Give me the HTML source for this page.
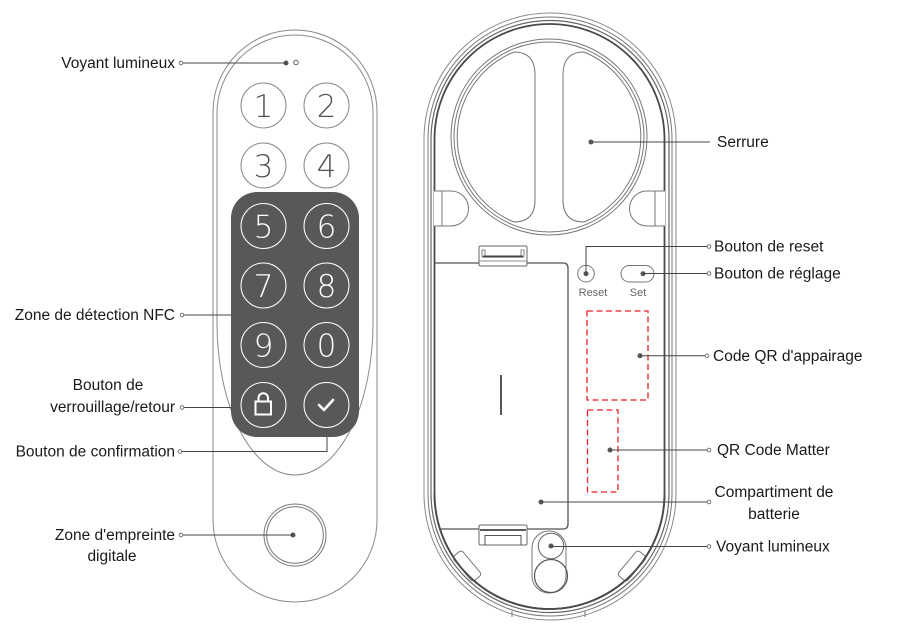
<!DOCTYPE html>
<html><head><meta charset="utf-8"><style>
html,body{margin:0;padding:0;background:#fff;}
svg{display:block;}
.lbl{font-family:"Liberation Sans",sans-serif;font-size:15.5px;fill:#1a1a1a;}
.dig{font-family:"DejaVu Sans","Liberation Sans",sans-serif;font-weight:200;font-size:31px;text-anchor:middle;}
.small{font-family:"Liberation Sans",sans-serif;font-size:11px;fill:#666;text-anchor:middle;}
</style></head><body>
<svg width="905" height="630" viewBox="0 0 905 630" xmlns="http://www.w3.org/2000/svg">
<!-- LEFT DEVICE -->
<rect x="213" y="30" width="164" height="572" rx="82" ry="82" fill="#fff" stroke="#8a8a8a" stroke-width="1"/>
<path d="M217 113 A78 78 0 0 1 373 113 L373 323 A78 152 0 0 1 217 323 Z" fill="none" stroke="#8a8a8a" stroke-width="1"/>
<circle cx="286" cy="63" r="2.5" fill="#555"/>
<circle cx="296" cy="62.5" r="2.3" fill="none" stroke="#666" stroke-width="1"/>
<g fill="none" stroke="#8a8a8a" stroke-width="1">
<circle cx="263.5" cy="105.5" r="22.5"/><circle cx="326.5" cy="105.5" r="22.5"/>
<circle cx="263.5" cy="165.5" r="22.5"/><circle cx="326.5" cy="165.5" r="22.5"/>
</g>
<g class="dig" fill="#555">
<text x="263.5" y="117">1</text><text x="326.5" y="117">2</text>
<text x="263.5" y="177">3</text><text x="326.5" y="177">4</text>
</g>
<rect x="231" y="192" width="128" height="245" rx="26" ry="26" fill="#58585b"/>
<g fill="none" stroke="#fff" stroke-width="1">
<circle cx="263.5" cy="226" r="22.5"/><circle cx="326.5" cy="226" r="22.5"/>
<circle cx="263.5" cy="285.5" r="22.5"/><circle cx="326.5" cy="285.5" r="22.5"/>
<circle cx="263.5" cy="345" r="22.5"/><circle cx="326.5" cy="345" r="22.5"/>
<circle cx="263.5" cy="405" r="22.5"/><circle cx="326.5" cy="405" r="22.5"/>
</g>
<g class="dig" fill="#fff">
<text x="263.5" y="237.5">5</text><text x="326.5" y="237.5">6</text>
<text x="263.5" y="297">7</text><text x="326.5" y="297">8</text>
<text x="263.5" y="356.5">9</text><text x="326.5" y="356.5">0</text>
</g>
<rect x="255.5" y="401.5" width="15.5" height="13" fill="none" stroke="#fff" stroke-width="2"/>
<path d="M258.5 401.5 V398 A4.75 4.75 0 0 1 268 398 V401.5" fill="none" stroke="#fff" stroke-width="2"/>
<polyline points="319,405 324,410 333,400" fill="none" stroke="#fff" stroke-width="2.6" stroke-linecap="round" stroke-linejoin="round"/>
<circle cx="295" cy="535" r="31" fill="none" stroke="#777" stroke-width="1"/>
<circle cx="295" cy="535" r="28.3" fill="none" stroke="#777" stroke-width="1"/>
<circle cx="293" cy="535" r="2.5" fill="#555"/>

<!-- LEFT CONNECTORS -->
<g stroke="#444" stroke-width="1" fill="none">
<line x1="183" y1="63" x2="286" y2="63"/>
<line x1="184" y1="315" x2="231" y2="315"/>
<line x1="184" y1="407.5" x2="231" y2="407.5"/>
<polyline points="182,451.5 327,451.5 327,437"/>
<line x1="183" y1="535" x2="293" y2="535"/>
</g>
<g fill="#fff" stroke="#666" stroke-width="0.9">
<circle cx="181" cy="63" r="1.8"/>
<circle cx="182" cy="315" r="1.8"/>
<circle cx="182" cy="407.5" r="1.8"/>
<circle cx="180" cy="451.5" r="1.8"/>
<circle cx="181" cy="535" r="1.8"/>
</g>
<g class="lbl">
<text x="175" y="68" text-anchor="end">Voyant lumineux</text>
<text x="175" y="320" text-anchor="end">Zone de détection NFC</text>
<text x="108" y="390" text-anchor="middle">Bouton de</text>
<text x="175" y="412" text-anchor="end">verrouillage/retour</text>
<text x="175" y="456.5" text-anchor="end">Bouton de confirmation</text>
<text x="175" y="540" text-anchor="end">Zone d'empreinte</text>
<text x="112" y="561" text-anchor="middle">digitale</text>
</g>

<!-- RIGHT DEVICE -->
<rect x="424" y="13" width="252" height="607" rx="126" ry="126" fill="#fff" stroke="#8a8a8a" stroke-width="1"/>
<rect x="428" y="17" width="244" height="599" rx="122" ry="122" fill="none" stroke="#777" stroke-width="1"/>
<rect x="431" y="20.5" width="238" height="592" rx="119" ry="119" fill="none" stroke="#666" stroke-width="1.2"/>
<rect x="434.5" y="24" width="230" height="585" rx="115" ry="115" fill="none" stroke="#4a4a4a" stroke-width="1.8"/>
<line x1="512" y1="611" x2="512" y2="617" stroke="#777" stroke-width="1"/>
<line x1="585" y1="611" x2="585" y2="617" stroke="#777" stroke-width="1"/>

<!-- lock circle -->
<circle cx="549" cy="137" r="98" fill="none" stroke="#777" stroke-width="1"/>
<circle cx="549" cy="137" r="95" fill="none" stroke="#777" stroke-width="1"/>
<path d="M535 75 L535 200 Q535 222 514 222 A92 92 0 0 1 514 52 Q535 52 535 75 Z" fill="none" stroke="#777" stroke-width="1"/>
<path d="M563 75 L563 200 Q563 222 584 222 A92 92 0 0 0 584 52 Q563 52 563 75 Z" fill="none" stroke="#777" stroke-width="1"/>
<!-- side bumps -->
<path d="M434 191 L451 191 A17.5 17.5 0 0 1 451 226 L434 226" fill="#fff" stroke="#777" stroke-width="1"/>
<line x1="442" y1="191" x2="442" y2="226" stroke="#777" stroke-width="1"/>
<path d="M665 191 L647 191 A17.5 17.5 0 0 0 647 226 L665 226" fill="#fff" stroke="#777" stroke-width="1"/>
<line x1="655" y1="191" x2="655" y2="226" stroke="#777" stroke-width="1"/>

<!-- battery compartment -->
<path d="M435 263 L563 263 Q568 263 568 268 L568 524 Q568 529 563 529 L440 529" fill="none" stroke="#555" stroke-width="1.3"/>
<rect x="479" y="246" width="48" height="20" rx="1.5" fill="#fff" stroke="#666" stroke-width="1"/>
<rect x="482" y="250" width="3" height="7" fill="none" stroke="#666" stroke-width="0.8"/>
<rect x="521" y="250" width="3" height="7" fill="none" stroke="#666" stroke-width="0.8"/>
<line x1="483" y1="256.5" x2="523" y2="256.5" stroke="#444" stroke-width="2"/>
<line x1="479" y1="261" x2="527" y2="261" stroke="#666" stroke-width="0.8"/>
<rect x="479" y="525" width="48" height="20" rx="1.5" fill="#fff" stroke="#666" stroke-width="1"/>
<line x1="480" y1="530" x2="526" y2="530" stroke="#444" stroke-width="1.8"/>
<path d="M485 545 L485 535.5 L521 535.5 L521 545" fill="none" stroke="#555" stroke-width="1"/>
<line x1="501" y1="375" x2="501" y2="415" stroke="#555" stroke-width="2"/>
<circle cx="541" cy="502" r="2.5" fill="#555"/>

<!-- reset / set -->
<circle cx="586" cy="273.7" r="8.3" fill="none" stroke="#777" stroke-width="1"/>
<circle cx="586" cy="273.7" r="2.5" fill="#555"/>
<rect x="621" y="265.5" width="33" height="16.5" rx="8.25" fill="none" stroke="#777" stroke-width="1"/>
<circle cx="643" cy="273.7" r="2.5" fill="#555"/>
<text class="small" x="593" y="296">Reset</text>
<text class="small" x="638" y="296">Set</text>

<!-- QR dashed -->
<rect x="587" y="311" width="61" height="89" fill="none" stroke="#e5202a" stroke-width="1.3" stroke-dasharray="6,3.5"/>
<rect x="587.5" y="410" width="30.5" height="82" fill="none" stroke="#e5202a" stroke-width="1.3" stroke-dasharray="6,3.5"/>
<circle cx="640" cy="355.7" r="2.5" fill="#555"/>
<circle cx="610" cy="450" r="2.5" fill="#555"/>

<!-- LED -->
<path d="M532 548 A17 17 0 0 1 566 548 L566 576 A17 17 0 0 1 532 576 Z" fill="#fff" stroke="#777" stroke-width="1"/>
<circle cx="551" cy="546" r="12.7" fill="none" stroke="#666" stroke-width="1"/>
<circle cx="551" cy="576" r="16.5" fill="none" stroke="#555" stroke-width="1.2"/>
<circle cx="551" cy="546" r="2.5" fill="#555"/>

<!-- bottom tabs -->
<rect x="-6" y="-16" width="12" height="32" rx="3" fill="#fff" stroke="#777" stroke-width="1" transform="translate(467,566) rotate(-40)"/>
<rect x="-6" y="-16" width="12" height="32" rx="3" fill="#fff" stroke="#777" stroke-width="1" transform="translate(632,566) rotate(40)"/>
<path d="M434.5 494 A115 115 0 0 0 664.5 494" fill="none" stroke="#4a4a4a" stroke-width="1.8"/>

<!-- RIGHT CONNECTORS -->
<g stroke="#444" stroke-width="1" fill="none">
<line x1="591" y1="142" x2="710" y2="142"/>
<polyline points="586,273.7 586,246.5 707,246.5"/>
<line x1="643" y1="273.5" x2="707" y2="273.5"/>
<line x1="640" y1="355.7" x2="705" y2="355.7"/>
<line x1="610" y1="450" x2="707" y2="450"/>
<line x1="541" y1="502" x2="707" y2="502"/>
<line x1="551" y1="546.5" x2="707" y2="546.5"/>
</g>
<circle cx="591" cy="142" r="2.5" fill="#555"/>
<g fill="#fff" stroke="#666" stroke-width="0.9">
<circle cx="709" cy="246.5" r="1.8"/>
<circle cx="709" cy="273.5" r="1.8"/>
<circle cx="707" cy="355.7" r="1.8"/>
<circle cx="709" cy="450" r="1.8"/>
<circle cx="709" cy="502" r="1.8"/>
<circle cx="709" cy="546.5" r="1.8"/>
</g>
<g class="lbl">
<text x="717" y="147">Serrure</text>
<text x="714" y="251.5">Bouton de reset</text>
<text x="714" y="278.5">Bouton de réglage</text>
<text x="713" y="361">Code QR d'appairage</text>
<text x="717" y="455">QR Code Matter</text>
<text x="774" y="497" text-anchor="middle">Compartiment de</text>
<text x="774" y="519" text-anchor="middle">batterie</text>
<text x="716" y="551.5">Voyant lumineux</text>
</g>
</svg>
</body></html>
